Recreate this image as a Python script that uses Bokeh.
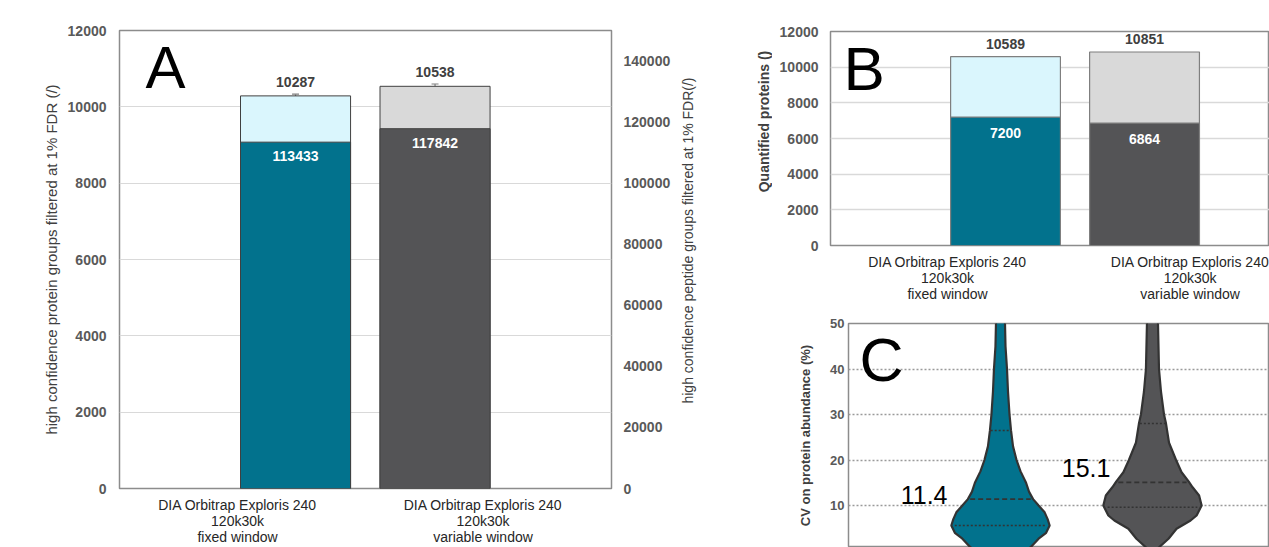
import numpy as np
from bokeh.plotting import figure
from bokeh.models import (Range1d, LinearAxis, Whisker, ColumnDataSource, Label, Spacer,
                          SingleIntervalTicker, FixedTicker, TeeHead, BasicTickFormatter)
from bokeh.layouts import row, column
from bokeh.embed import file_html
from bokeh.resources import INLINE
from bokeh.core.properties import value

FONT = "Liberation Sans"

# ---------------- data ----------------
setups = ["fixed window", "variable window"]
setup_labels = ["DIA Orbitrap Exploris 240\n120k30k\nfixed window",
                "DIA Orbitrap Exploris 240\n120k30k\nvariable window"]
dark_colors = ["#02728D", "#545456"]
light_colors = ["#DAF6FD", "#D9D9D9"]

# Panel A: protein groups (left axis) and peptide groups (right axis)
protein_groups = [10287, 10538]
protein_groups_sd = [45, 60]
peptide_groups = [113433, 117842]
peptide_groups_sd = [1000, 500]

# Panel B: quantified proteins
quantified_total = [10589, 10851]
quantified_part = [7200, 6864]

# Panel C: CV on protein abundance (%) - violin profiles (cv level, relative density)
cv_median = [11.4, 15.1]
cv_q1 = [5.6, 9.6]
cv_q3 = [26.5, 28.0]
violin_fixed_cv = [0, 0.8, 2.7, 4.0, 5.6, 7.0, 8.5, 10, 11.4, 13, 15, 17.5, 20, 23, 26.5, 30, 35, 40, 45, 50, 55]
violin_fixed_dens = [0.44, 0.60, 0.76, 0.91, 0.98, 0.94, 0.88, 0.76, 0.65, 0.57, 0.51, 0.40, 0.32, 0.25, 0.21, 0.18, 0.15, 0.13, 0.10, 0.09, 0.08]
violin_var_cv = [0, 0.8, 2.7, 4.9, 6.7, 7.8, 10, 12.2, 14, 15.3, 17.3, 20, 23.8, 28, 30, 35, 40, 50, 55]
violin_var_dens = [0.04, 0.13, 0.32, 0.48, 0.76, 0.88, 0.98, 0.93, 0.80, 0.72, 0.58, 0.47, 0.33, 0.27, 0.23, 0.17, 0.13, 0.11, 0.10]

xs = list(range(len(setups)))
label_shift = [-58, 48]   # px shift of the category captions relative to the bars

TICK_COLOR = "#595959"
TITLE_COLOR = "#404040"
FRAME_COLOR = "#8C8C8C"
GRID_COLOR = "#D9D9D9"


def style_axis(ax, title_size, title_style="normal", tick_size="14px", label_standoff=13, title_standoff=5):
    ax.axis_line_color = None
    ax.major_tick_line_color = None
    ax.minor_tick_line_color = None
    ax.major_tick_out = 0
    ax.major_tick_in = 0
    ax.minor_tick_out = 0
    ax.major_label_standoff = label_standoff
    ax.axis_label_standoff = title_standoff
    ax.major_label_text_font = FONT
    ax.major_label_text_font_style = "bold"
    ax.major_label_text_font_size = tick_size
    ax.major_label_text_color = TICK_COLOR
    ax.axis_label_text_font = FONT
    ax.axis_label_text_font_style = title_style
    ax.axis_label_text_font_size = title_size
    ax.axis_label_text_color = TITLE_COLOR


def category_axis(p, frame_width, standoff):
    ppu = frame_width / (p.x_range.end - p.x_range.start)
    ticks = [xs[i] + label_shift[i] / ppu for i in range(len(xs))]
    ax = p.xaxis[0]
    ax.ticker = FixedTicker(ticks=ticks)
    ax.major_label_overrides = {t: lab for t, lab in zip(ticks, setup_labels)}
    ax.axis_line_color = None
    ax.major_tick_line_color = None
    ax.minor_tick_line_color = None
    ax.major_tick_out = 0
    ax.major_tick_in = 0
    ax.major_label_standoff = standoff
    ax.major_label_text_font = FONT
    ax.major_label_text_font_size = "14px"
    ax.major_label_text_color = "#262626"
    ax.major_label_text_line_height = 1.0


def panel_letter(p, letter, dx, dy, size="61px"):
    p.add_layout(Label(x=p.x_range.start, y=p.y_range.end, text=letter, x_offset=dx, y_offset=dy,
                       text_font=FONT, text_font_size=size, text_color="black",
                       text_baseline="top", text_align="left"))


def title_strip(text, width, height, left, top, bottom, size, style):
    """A narrow empty figure that only carries a vertical (bottom-to-top) axis title."""
    s = figure(width=width, height=height, x_range=Range1d(0, 1), y_range=Range1d(0, 1),
               output_backend="svg", toolbar_location=None,
               min_border_left=left, min_border_right=0, min_border_top=top, min_border_bottom=bottom)
    s.xaxis.visible = False
    s.grid.visible = False
    s.outline_line_color = None
    s.background_fill_color = None
    s.border_fill_color = None
    ax = s.yaxis[0]
    ax.ticker = FixedTicker(ticks=[])
    ax.axis_label = text
    style_axis(ax, size, style, label_standoff=0, title_standoff=0)
    return s


# ---------------- Panel A ----------------
pA = figure(width=676, height=547, x_range=Range1d(-1.262, 2.265), y_range=Range1d(0, 12000),
            output_backend="svg", toolbar_location=None,
            min_border_left=119, min_border_right=65, min_border_top=30, min_border_bottom=59)
pA.extra_y_ranges = {"pep": Range1d(0, 150000)}
pA.xgrid.visible = False
category_axis(pA, 492, 8)
pA.yaxis.ticker = SingleIntervalTicker(interval=2000, num_minor_ticks=0)
pA.yaxis.axis_label = "high confidence protein groups filtered at 1% FDR (/)"
style_axis(pA.yaxis[0], "15px", title_standoff=5)
right_ax = LinearAxis(y_range_name="pep",
                      ticker=SingleIntervalTicker(interval=20000, num_minor_ticks=0),
                      formatter=BasicTickFormatter(use_scientific=False))
style_axis(right_ax, "14px", label_standoff=12, title_standoff=9)
pA.add_layout(right_ax, "right")
pA.ygrid.grid_line_color = GRID_COLOR
pA.outline_line_color = FRAME_COLOR
pA.outline_line_width = 1.5

srcA = ColumnDataSource(dict(
    x=xs, pg=protein_groups, pep=peptide_groups,
    pg_lo=[v - e for v, e in zip(protein_groups, protein_groups_sd)],
    pg_hi=[v + e for v, e in zip(protein_groups, protein_groups_sd)],
    pep_lo=[v - e for v, e in zip(peptide_groups, peptide_groups_sd)],
    pep_hi=[v + e for v, e in zip(peptide_groups, peptide_groups_sd)],
    pg_txt=[str(v) for v in protein_groups], pep_txt=[str(v) for v in peptide_groups],
    light=light_colors, dark=dark_colors))

pA.vbar(x="x", top="pg", width=0.789, source=srcA, fill_color="light", line_color="#404040", line_width=1)
pA.vbar(x="x", top="pep", width=0.789, source=srcA, fill_color="dark", line_color="#404040", line_width=1,
        y_range_name="pep")
for up, lo, rn in [("pg_hi", "pg_lo", "default"), ("pep_hi", "pep_lo", "pep")]:
    pA.add_layout(Whisker(source=srcA, base="x", upper=up, lower=lo, dimension="height",
                          line_color="#7F7F7F", line_width=1.2, y_range_name=rn,
                          upper_head=TeeHead(size=7, line_color="#7F7F7F", line_width=1.2),
                          lower_head=TeeHead(size=7, line_color="#7F7F7F", line_width=1.2)))
pA.text(x="x", y="pg", text="pg_txt", source=srcA, text_align="center", text_baseline="alphabetic",
        y_offset=-14, text_font=value(FONT), text_font_style="bold", text_font_size="14px",
        text_color="#404040")
pA.text(x="x", y="pep", text="pep_txt", source=srcA, y_range_name="pep", text_align="center",
        text_baseline="top", y_offset=9, text_font=value(FONT), text_font_style="bold",
        text_font_size="14px", text_color="white")
panel_letter(pA, "A", 26, -3, "60px")

# right-hand title of panel A (reads bottom to top, like the reference)
pA_right_title = title_strip("high confidence peptide groups filtered at 1% FDR(/)",
                             64, 547, 18, 30, 97, "14px", "normal")

# ---------------- Panel B ----------------
pB_title = title_strip("Quantified proteins ()", 32, 310, 31, 31, 99, "14px", "bold")
pB = figure(width=497, height=310, x_range=Range1d(-1.259, 1.899), y_range=Range1d(0, 12000),
            output_backend="svg", toolbar_location=None,
            min_border_left=58, min_border_right=0, min_border_top=31, min_border_bottom=65)
pB.xgrid.visible = False
category_axis(pB, 439, 8)
pB.yaxis.ticker = SingleIntervalTicker(interval=2000, num_minor_ticks=0)
style_axis(pB.yaxis[0], "14px", "bold", label_standoff=12, title_standoff=8)
pB.ygrid.grid_line_color = GRID_COLOR
pB.ygrid.grid_line_width = 1.5
pB.outline_line_color = FRAME_COLOR
pB.outline_line_width = 1.5

srcB = ColumnDataSource(dict(x=xs, tot=quantified_total, part=quantified_part,
                             tot_txt=[str(v) for v in quantified_total],
                             part_txt=[str(v) for v in quantified_part],
                             light=light_colors, dark=dark_colors))
pB.vbar(x="x", top="tot", width=0.79, source=srcB, fill_color="light", line_color="#7F7F7F", line_width=1.2)
pB.vbar(x="x", top="part", width=0.79, source=srcB, fill_color="dark", line_color="#7F7F7F", line_width=1.2)
pB.text(x="x", y="tot", text="tot_txt", source=srcB, text_align="center", text_baseline="alphabetic",
        y_offset=-13, text_font=value(FONT), text_font_style="bold", text_font_size="14px",
        text_color="#404040")
pB.text(x="x", y="part", text="part_txt", source=srcB, text_align="center", text_baseline="top",
        y_offset=11, text_font=value(FONT), text_font_style="bold", text_font_size="14px",
        text_color="white")
panel_letter(pB, "B", 13, -2, "62px")

# ---------------- Panel C ----------------
pC = figure(width=511, height=237, x_range=Range1d(-1.0, 1.77), y_range=Range1d(0.77, 50),
            output_backend="svg", toolbar_location=None,
            min_border_left=90, min_border_right=0, min_border_top=13, min_border_bottom=0)
pC.xaxis.visible = False
pC.xgrid.visible = False
pC.yaxis.ticker = SingleIntervalTicker(interval=10, num_minor_ticks=0)
pC.yaxis.axis_label = "CV on protein abundance (%)"
style_axis(pC.yaxis[0], "13px", "bold", tick_size="13px", label_standoff=4, title_standoff=14)
pC.ygrid.grid_line_color = "#9A9A9A"
pC.ygrid.grid_line_dash = "2 2"
pC.ygrid.grid_line_width = 1.5
pC.outline_line_color = FRAME_COLOR
pC.outline_line_width = 1.5

half_width = 0.33
profiles = [(violin_fixed_cv, violin_fixed_dens), (violin_var_cv, violin_var_dens)]
for i, (cv, dens) in enumerate(profiles):
    cv = np.array(cv, dtype=float)
    d = np.array(dens, dtype=float) * half_width
    px = np.concatenate([xs[i] - d, (xs[i] + d)[::-1]])
    py = np.concatenate([cv, cv[::-1]])
    pC.patch(px, py, fill_color=dark_colors[i], line_color="#333333", line_width=2.2)
    for q, dash, lw in [(cv_median[i], "5 3", 1.8), (cv_q1[i], "2 2", 1.5), (cv_q3[i], "2 2", 1.5)]:
        hw = np.interp(q, cv, d) * 0.93
        pC.segment(x0=[xs[i] - hw], y0=[q], x1=[xs[i] + hw], y1=[q], line_color="#333333",
                   line_dash=dash, line_width=lw)

srcC = ColumnDataSource(dict(x=xs, med=cv_median, txt=[str(v) for v in cv_median],
                             dx=[-53, -42], dy=[-4, -14]))
pC.text(x="x", y="med", text="txt", source=srcC, text_align="right", text_baseline="middle",
        x_offset="dx", y_offset="dy", text_font=value(FONT), text_font_size="25px",
        text_color="black")
panel_letter(pC, "C", 11, -2)

for p in (pA, pA_right_title, pB_title, pB, pC):
    try:
        p.frame_align = False
    except Exception:
        pass

layout = row(pA, pA_right_title,
             column(row(pB_title, pB, spacing=0),
                    row(Spacer(width=18, height=237), pC, spacing=0), spacing=0),
             spacing=0)
open("out.html", "w").write(file_html(layout, INLINE))
